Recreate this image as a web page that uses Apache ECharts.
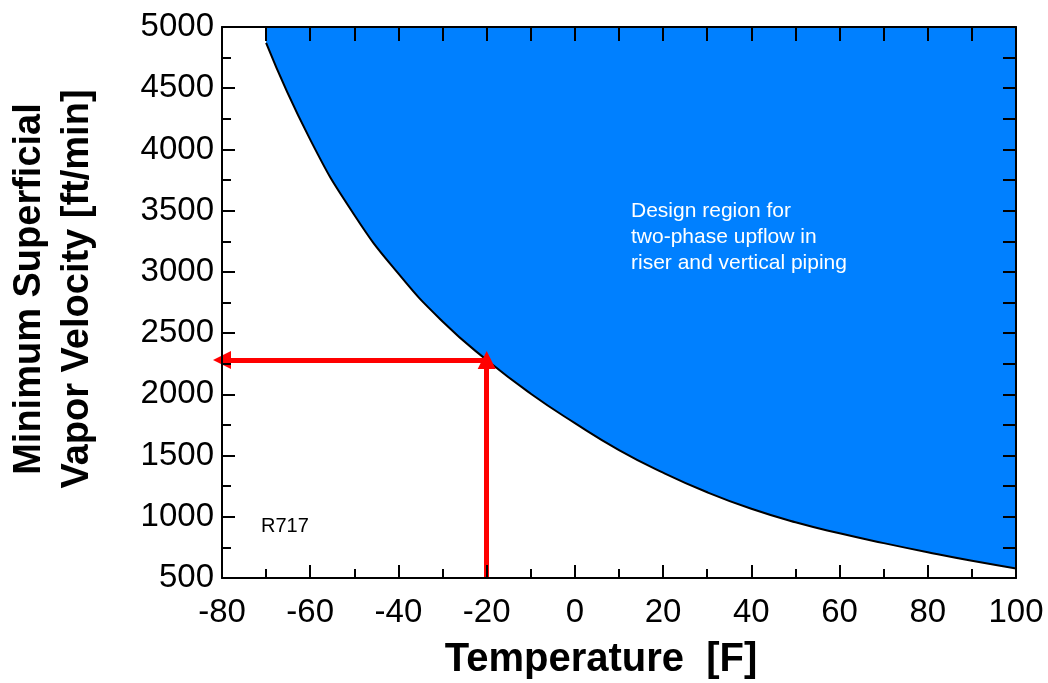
<!DOCTYPE html>
<html>
<head>
<meta charset="utf-8">
<script src="https://cdn.jsdelivr.net/npm/echarts@6/dist/echarts.min.js"></script>
<style>
html,body{margin:0;padding:0;background:#fff;}
#chart{width:1048px;height:683px;}
</style>
</head>
<body>
<div id="chart"></div>
<script>
// Data
const temperatures = [-70, -60, -50, -40, -30, -20, -10, 0, 10, 20, 30, 40, 50, 60, 70, 80, 90, 100];
const minVelocity = [4870, 4080, 3465, 2985, 2595, 2280, 2005, 1765, 1545, 1360, 1200, 1065, 955, 865, 785, 710, 640, 578];
const xTicks = { min: -80, max: 100, interval: 20 };
const yTicks = { min: 500, max: 5000, interval: 500 };
const designPointT = -20;
const designPointV = 2280;
const xTitle = 'Temperature  [F]';
const yTitle = 'Minimum Superficial\nVapor Velocity [ft/min]';
const regionNote = 'Design region for\ntwo-phase upflow in\nriser and vertical piping';
const refrigerant = 'R717';

const FONT = '"Liberation Sans", Arial, sans-serif';

const curve = temperatures.map((t, i) => [t, minVelocity[i]]);

const chart = echarts.init(document.getElementById('chart'), null, { renderer: 'canvas' });

const axisLineStyle = { color: '#000', width: 2 };

const option = {
  animation: false,
  backgroundColor: '#fff',
  grid: { left: 222, right: 32, top: 27, bottom: 105, containLabel: false },
  xAxis: [
    {
      type: 'value', position: 'bottom', z: 10,
      min: xTicks.min, max: xTicks.max, interval: xTicks.interval,
      axisLine: { show: true, onZero: false, lineStyle: axisLineStyle },
      axisTick: { show: true, inside: true, length: 13, lineStyle: { color: '#000', width: 2 } },
      minorTick: { show: true, splitNumber: 2, length: 9, lineStyle: { color: '#000', width: 2 } },
      splitLine: { show: false },
      axisLabel: { color: '#000', fontSize: 33, fontFamily: FONT, margin: 18, formatter: v => String(v) }
    },
    {
      type: 'value', position: 'top', z: 10,
      min: xTicks.min, max: xTicks.max, interval: 10,
      axisLine: { show: true, onZero: false, lineStyle: axisLineStyle },
      axisTick: { show: true, inside: true, length: 14, lineStyle: { color: '#000', width: 2 } },
      splitLine: { show: false },
      axisLabel: { show: false }
    }
  ],
  yAxis: [
    {
      type: 'value', position: 'left', z: 10,
      min: yTicks.min, max: yTicks.max, interval: yTicks.interval,
      axisLine: { show: true, onZero: false, lineStyle: axisLineStyle },
      axisTick: { show: true, inside: true, length: 13, lineStyle: { color: '#000', width: 2 } },
      minorTick: { show: true, splitNumber: 2, length: 9, lineStyle: { color: '#000', width: 2 } },
      splitLine: { show: false },
      axisLabel: { color: '#000', fontSize: 33, fontFamily: FONT, margin: 8, formatter: v => String(v) }
    },
    {
      type: 'value', position: 'right', z: 10,
      min: yTicks.min, max: yTicks.max, interval: 250,
      axisLine: { show: true, onZero: false, lineStyle: axisLineStyle },
      axisTick: { show: true, inside: true, length: 13, lineStyle: { color: '#000', width: 2 } },
      splitLine: { show: false },
      axisLabel: { show: false }
    }
  ],
  series: [
    {
      type: 'line',
      xAxisIndex: 0, yAxisIndex: 0,
      data: curve,
      smooth: 0.5,
      symbol: 'none',
      z: 2,
      lineStyle: { color: '#000', width: 2 },
      areaStyle: { origin: 'end', color: '#0080FF', opacity: 1 }
    },
    {
      type: 'line',
      xAxisIndex: 0, yAxisIndex: 0,
      data: [],
      z: 5,
      markLine: {
        silent: true,
        animation: false,
        symbol: ['none', 'triangle'],
        symbolSize: [18, 18],
        label: { show: false },
        lineStyle: { color: '#FF0000', width: 5, type: 'solid' },
        data: [
          [{ coord: [designPointT, yTicks.min] }, { coord: [designPointT, designPointV] }],
          [{ coord: [designPointT, designPointV] }, { coord: [xTicks.min, designPointV] }]
        ]
      }
    }
  ],
  graphic: [
    {
      type: 'text',
      x: 54, y: 289,
      rotation: Math.PI / 2,
      style: {
        text: yTitle,
        x: 0, y: 0,
        align: 'center', verticalAlign: 'middle',
        textAlign: 'center', textVerticalAlign: 'middle',
        fontSize: 38, fontWeight: 'bold', fontFamily: FONT,
        lineHeight: 48,
        fill: '#000'
      }
    },
    {
      type: 'text',
      x: 601, y: 660,
      style: {
        text: xTitle,
        x: 0, y: 0,
        align: 'center', verticalAlign: 'middle',
        textAlign: 'center', textVerticalAlign: 'middle',
        fontSize: 40, fontWeight: 'bold', fontFamily: FONT,
        fill: '#000'
      }
    },
    {
      type: 'text',
      left: 631, top: 198,
      z: 20,
      style: {
        text: regionNote,
        fontSize: 21, fontFamily: FONT,
        lineHeight: 26,
        fill: '#fff'
      }
    },
    {
      type: 'text',
      left: 261, top: 516,
      z: 20,
      style: {
        text: refrigerant,
        fontSize: 20, fontFamily: FONT,
        fill: '#000'
      }
    }
  ]
};

chart.setOption(option);
</script>
</body>
</html>
